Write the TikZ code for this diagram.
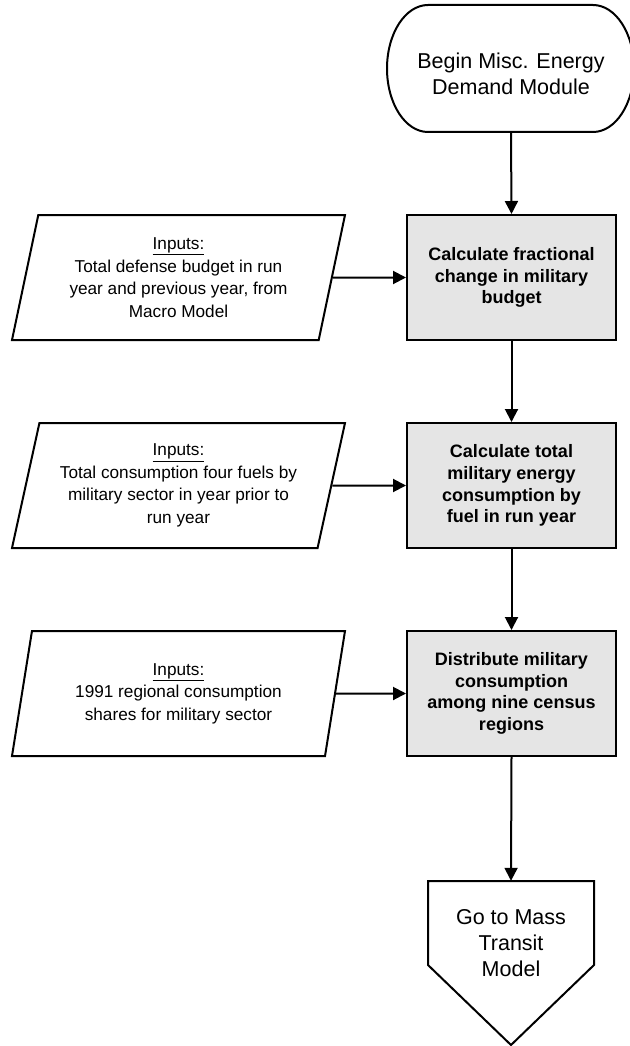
\documentclass[tikz,border=0pt]{standalone}
\usepackage{fontspec}
\setmainfont{Liberation Sans}
\usetikzlibrary{shapes.geometric,arrows.meta}

\begin{document}
\begin{tikzpicture}[x=1pt,y=-1pt,
        flowline/.style={line width=2pt},
        flowarrow/.style={line width=2pt,-{Triangle[length=13pt,width=13pt]}},
        procbox/.style={draw,line width=2pt,fill=gray!20,minimum width=209pt,minimum height=125pt,
            inner sep=0pt,align=center,font=\fontsize{18}{21.7}\selectfont\bfseries},
        inbox/.style={draw,line width=2pt,trapezium,trapezium left angle=71.7,trapezium right angle=108.3,
            trapezium stretches body,minimum width=333pt,minimum height=125pt,inner sep=0pt,
            align=center,font=\fontsize{17.2}{22.5}\selectfont},
        termtext/.style={align=center,inner sep=0pt,font=\fontsize{21.5}{26}\selectfont}]
            \useasboundingbox (0,0) rectangle (629,1046);

            % Start terminal (ends cut by the page edge)
            \draw[flowline] (428,5) -- (593,5) arc[start angle=-90,end angle=90,x radius=41,y radius=63.5]
                -- (428,132) arc[start angle=90,end angle=270,x radius=41,y radius=63.5] -- cycle;
            \node[termtext,minimum width=166pt,minimum height=116pt] (start) at (511,74) {Begin Misc. Energy\\Demand Module};

            % Process boxes
            \node[procbox] (box1) at (511.5,277.5) {Calculate fractional\\change in military\\budget};
            \node[procbox] (box2) at (511.5,485.5) {Calculate total\\military energy\\consumption by\\fuel in run year};
            \node[procbox] (box3) at (511.5,693.5) {Distribute military\\consumption\\among nine census\\regions};

            % Input parallelograms
            \node[inbox] (in1) at (178.5,277.5) {\underline{Inputs:}\\Total defense budget in run\\year and previous year, from\\Macro Model};
            \node[inbox] (in2) at (178.5,485.5) {\underline{Inputs:}\\Total consumption four fuels by\\military sector in year prior to\\run year};
            \node[inbox] (in3) at (178.5,693.5) {\underline{Inputs:}\\1991 regional consumption\\shares for military sector};

            % Off-page connector
            \draw[flowline] (428,881) -- (594,881) -- (594,965) -- (511,1045) -- (428,965) -- cycle;
            \node[termtext,minimum width=166pt,minimum height=124pt] (goto) at (511,943) {Go to Mass\\Transit\\Model};

            % Arrows down the main column
            \draw[flowarrow] (start.south) -- (box1.north);
            \draw[flowarrow] (box1.south) -- (box2.north);
            \draw[flowarrow] (box2.south) -- (box3.north);
            \draw[flowarrow] (box3.south) -- (goto.north);

            % Arrows from the inputs
            \foreach \i in {1,2,3} {
                \draw[flowarrow] (in\i.east) -- (box\i.west);
            }
        \end{tikzpicture}
\end{document}
